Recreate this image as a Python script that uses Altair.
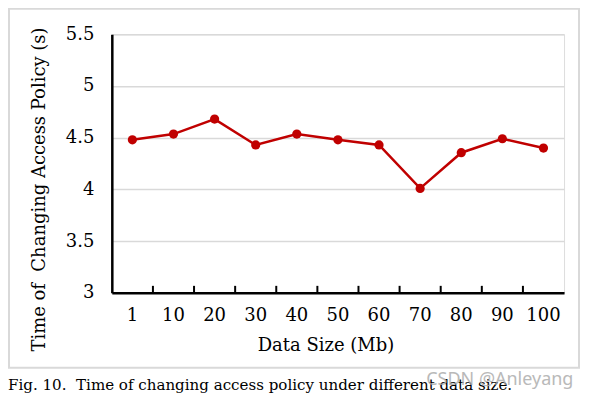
import altair as alt
import pandas as pd

sizes = ["1", "10", "20", "30", "40", "50", "60", "70", "80", "90", "100"]
times = [4.48, 4.535, 4.68, 4.43, 4.535, 4.48, 4.43, 4.01, 4.355, 4.49, 4.40]
boundaries = sizes[1:]

FONT = "DejaVu Serif"
FS = 18
RED = "#c00000"
W, H = 453, 259

df = pd.DataFrame({"size": sizes, "time": times})
bdf = pd.DataFrame({"size": boundaries})

xscale = alt.Scale(domain=sizes, paddingInner=0, paddingOuter=0)
yscale = alt.Scale(domain=[3, 5.5])

base = alt.Chart(df)

line = base.mark_line(color=RED, strokeWidth=2.5).encode(
    x=alt.X("size:N", sort=sizes, scale=xscale,
            axis=alt.Axis(title="Data Size (Mb)", labelAngle=0, tickSize=0,
                          labelPadding=14, labelFontSize=FS, labelFont=FONT,
                          labelColor="black", titleFont=FONT, titleFontSize=FS,
                          titleFontWeight="normal", titleColor="black",
                          titleX=214, titleY=53, titleBaseline="middle",
                          titleAlign="center",
                          domainColor="black", domainWidth=2.5, grid=False)),
    y=alt.Y("time:Q", scale=yscale,
            axis=alt.Axis(title="Time of\u00a0\u00a0Changing Access Policy (s)",
                          values=[3, 3.5, 4, 4.5, 5, 5.5], format=".1~f",
                          tickSize=0, labelPadding=18, labelFontSize=FS,
                          labelFont=FONT, labelColor="black",
                          titleFont=FONT, titleFontSize=FS,
                          titleFontWeight="normal", titleColor="black",
                          titleX=-72, titleY=155, titleAngle=270,
                          titleAlign="center", titleBaseline="middle",
                          domainColor="black", domainWidth=2.5,
                          grid=True, gridColor="#d9d9d9", gridWidth=1.5)),
)
points = base.mark_point(color=RED, filled=True, opacity=1, size=85).encode(
    x=alt.X("size:N", sort=sizes, scale=xscale),
    y=alt.Y("time:Q", scale=yscale),
)
ticks = alt.Chart(bdf).mark_rule(color="black", strokeWidth=2).encode(
    x=alt.X("size:N", sort=sizes, scale=xscale, bandPosition=0),
    y=alt.value(H),
    y2=alt.value(H - 7),
)

one = alt.Chart(pd.DataFrame({"a": [0]}))
border = one.mark_rect(fill=None, stroke="#d9d9d9", strokeWidth=2).encode(
    x=alt.value(-103), x2=alt.value(468), y=alt.value(-25.5), y2=alt.value(334)
)
caption = one.mark_text(
    text="Fig. 10.\u00a0\u00a0Time of changing access policy under different data size.",
    font=FONT, fontSize=15.1, align="left", baseline="alphabetic", color="black",
).encode(x=alt.value(-104), y=alt.value(356))
watermark = one.mark_text(
    text="CSDN @Anleyang", font="Noto Sans", fontSize=18, align="left",
    baseline="alphabetic", color="#a8a8a8", opacity=0.8,
).encode(x=alt.value(315), y=alt.value(351))

chart = alt.layer(border, line, ticks, points, caption, watermark).properties(
    width=W, height=H,
    autosize=alt.AutoSizeParams(type="none"),
    padding={"left": 104, "top": 26, "right": 20, "bottom": 100},
).configure_view(stroke="black", strokeWidth=1.5).configure(background="white")

chart.save("out.html", embed_options={"renderer": "svg", "actions": False})
